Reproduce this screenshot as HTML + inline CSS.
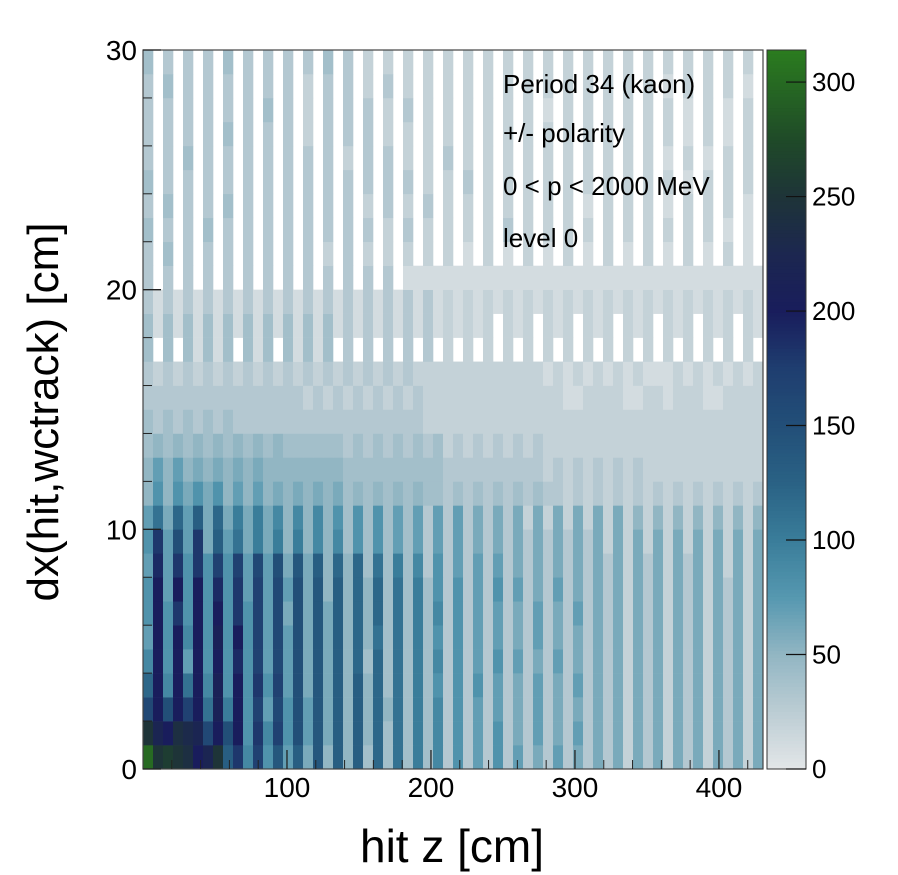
<!DOCTYPE html>
<html><head><meta charset="utf-8"><style>
html,body{margin:0;padding:0;background:#fff;}
svg{display:block;font-family:"Liberation Sans",Arial,sans-serif;}
</style></head><body>
<svg id="chart" width="898" height="875" viewBox="0 0 898 875" xmlns="http://www.w3.org/2000/svg">
<g id="cells"></g>
<g id="cbar"></g>
<g id="axes"></g>
<g font-size="26" fill="#000">
<text x="503" y="93">Period 34 (kaon)</text>
<text x="503" y="142">+/- polarity</text>
<text x="503" y="195">0 &lt; p &lt; 2000 MeV</text>
<text x="503" y="247">level 0</text>
</g>
<text x="452" y="862" font-size="46" text-anchor="middle">hit z [cm]</text>
<text transform="translate(58,412) rotate(-90)" font-size="44" text-anchor="middle">dx(hit,wctrack) [cm]</text>
</svg>
<script>
// Bin values (row 0 = bottom, 0-1 cm). Each char = count/10: 0-9, a=100 ... v=310
const rowStrings = [
"upqpokmpdi9h8e7d6e5d5d4c4b4a4938373837363736363626362636263626",
"pmkonmgkfk8i9h8f7e6d5d5c4b4a4938373836373637363626362636263626",
"gkfkhkblak8h7g8f7e6d5d5c5b4a4938373736373636363626362636263626",
"ck9kbk9l8k8i8h7f6e6d5d5c4b4a4838383736373637363626362636263626",
"9k8k7k8k8j8h7g7f6e6d5c4c4b4a4938373837363736363626362636263626",
"7k8k9k8l8k8h7g7f6e6d5c5b4b4a4838373736373636363626362636263626",
"8k8i8k8k8i8h7g6f6e6d5c5c4b4a4938373736373637363626362636263626",
"8k7k8k8j8i7h7g7f6e5d5c5c4b4a4838373837363736363626362636263626",
"7j7i8i8h8h7g7f6e6d5c5c4b4a493837373736363636363626362636262626",
"8i7f7i6d7b6a6a5a59594848474737373636363636363626262626262626 26".replace(' ',''),
"7b6c7d6c6a6a69595958484847473737363636262626262625252525252525",
"58586868575756565656454545454434343434343323232323232323232323",
"57575656565655555555444444444433333333332323232323222222222222",
"45454545454545444444343434343423232323232222222222222222222222",
"43434343433333333333333333332222222222222222222222222222222222",
"33333333333333332323232323232222222222222211222211221222112222",
"32323232323232323232323232322222222222221212121212111212121212",
"40404141404140414140303030303020202020202020202020202020202020",
"41414141414141414141313131313121212021202120212021202120212021",
"31313131313131313131313131313121212121212121212121212121212121",
"30303030303030303030303030111111111111111111111111111111111111",
"30403030303030303020302020202020102010201020102010201020102010",
"40303040303030303030303020302020202030202020202020202020201010",
"30403030403030303030302030203020202020202020102020201020202010",
"40303030303030303030303030302020302020202020202020202010202020",
"30304030303030303030203030202030202020202020202020201020102020",
"30303030403030302030303020202020202020202020202020202010201020",
"30303030303040302030303020302020202020201020202020202010201020",
"30403030303030302030302030202020202020202020202020201020202010",
"40303030403030303040302020202020202020202020202020202020202020"
];
const xMin = 0, xMax = 430.6, nX = 62;
const yMin = 0, yMax = 30, nY = 30;
const zMax = 314;
const xTicks = [100, 200, 300, 400];
const xTickLabels = ["100", "200", "300", "400"];
const yTicks = [0, 10, 20, 30];
const yTickLabels = ["0", "10", "20", "30"];
const zTicks = [0, 50, 100, 150, 200, 250, 300];
const zTickLabels = ["0", "50", "100", "150", "200", "250", "300"];

const PL = 143, PR = 763, PT = 50, PB = 769;
const CBL = 767, CBR = 806;
const NS = "http://www.w3.org/2000/svg";
function xs(v){return PL + (v - xMin) / (xMax - xMin) * (PR - PL);}
function ys(v){return PB - (v - yMin) / (yMax - yMin) * (PB - PT);}
function zs(v){return PB - v / zMax * (PB - PT);}
const stops = [[0,[227,230,232]],[25,[188,205,212]],[50,[146,182,195]],[75,[86,152,176]],[100,[58,125,154]],[125,[42,98,133]],[150,[34,79,120]],[175,[31,62,112]],[200,[25,29,92]],[225,[28,39,80]],[250,[30,52,56]],[275,[31,74,40]],[314,[43,124,31]]];
function color(v){
  if(v<=0) return null;
  for(let i=1;i<stops.length;i++){
    if(v<=stops[i][0]){
      const a=stops[i-1],b=stops[i],t=(v-a[0])/(b[0]-a[0]);
      const c=a[1].map((q,k)=>Math.round(q+(b[1][k]-q)*t));
      return `rgb(${c[0]},${c[1]},${c[2]})`;
    }
  }
  const c=stops[stops.length-1][1];return `rgb(${c[0]},${c[1]},${c[2]})`;
}
function decode(ch){return parseInt(ch,36)*10;}
function mk(tag,attrs,parent){const e=document.createElementNS(NS,tag);for(const k in attrs)e.setAttribute(k,attrs[k]);parent.appendChild(e);return e;}

const cells=document.getElementById('cells');
const bw=(xMax-xMin)/nX, bh=(yMax-yMin)/nY;
rowStrings.forEach((s,r)=>{
  for(let c=0;c<nX;c++){
    const v=decode(s[c]||'0');
    const col=color(v);
    if(!col) continue;
    const x0=xs(xMin+c*bw), x1=xs(xMin+(c+1)*bw), y0=ys(yMin+(r+1)*bh), y1=ys(yMin+r*bh);
    const el=mk('rect',{x:x0.toFixed(2),y:y0.toFixed(2),width:(x1-x0+0.3).toFixed(2),height:(y1-y0+0.3).toFixed(2),fill:col},cells);
    
    
  }
});

const cb=document.getElementById('cbar');
for(let i=0;i<200;i++){
  const v0=zMax*i/200, v1=zMax*(i+1)/200;
  const el=mk('rect',{x:CBL,y:zs(v1).toFixed(2),width:CBR-CBL,height:(zs(v0)-zs(v1)+0.5).toFixed(2),fill:color(Math.max(v0+0.01,(v0+v1)/2))},cb);
  
  
}
mk('rect',{x:CBL,y:PT,width:CBR-CBL,height:PB-PT,fill:'none',stroke:'#333','stroke-width':1},cb);
zTicks.forEach((t,i)=>{
  const y=zs(t);
  mk('line',{x1:CBR-20,x2:CBR,y1:y,y2:y,stroke:'#111','stroke-width':1.2},cb);
  const tx=mk('text',{x:CBR+6,y:y+9,'font-size':26},cb);
  tx.textContent=zTickLabels[i];
  
  
});

const ax=document.getElementById('axes');
mk('rect',{x:PL,y:PT,width:PR-PL,height:PB-PT,fill:'none',stroke:'#444','stroke-width':1.2},ax);
xTicks.forEach((t,i)=>{
  const x=xs(t);
  mk('line',{x1:x,x2:x,y1:PB,y2:PB-19,stroke:'#222','stroke-width':1.3},ax);
  const tx=mk('text',{x:x,y:797,'font-size':28,'text-anchor':'middle'},ax);
  tx.textContent=xTickLabels[i];
  
  
});
for(let v=20;v<xMax;v+=20){ if(v%100===0) continue; const x=xs(v); mk('line',{x1:x,x2:x,y1:PB,y2:PB-9,stroke:'#222','stroke-width':1},ax); }
yTicks.forEach((t,i)=>{
  const y=ys(t);
  mk('line',{x1:PL,x2:PL+18,y1:y,y2:y,stroke:'#222','stroke-width':1.3},ax);
  const tx=mk('text',{x:PL-6,y:y+10,'font-size':28,'text-anchor':'end'},ax);
  tx.textContent=yTickLabels[i];
  
  
});
for(let v=2;v<yMax;v+=2){ if(v%10===0) continue; const y=ys(v); mk('line',{x1:PL,x2:PL+9,y1:y,y2:y,stroke:'#222','stroke-width':1},ax); }
</script>
</body></html>
